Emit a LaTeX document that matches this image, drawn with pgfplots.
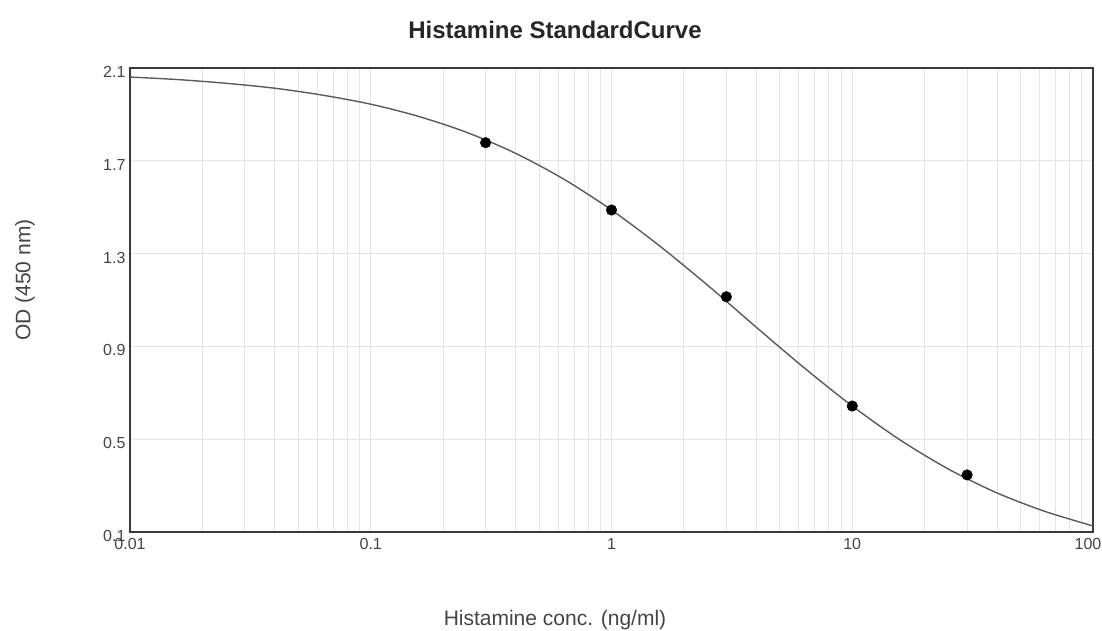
\documentclass[border=0pt]{standalone}
\usepackage{fontspec}
\setmainfont{Liberation Sans}
\usepackage{pgfplots}
\pgfplotsset{compat=1.18}

\definecolor{gridgray}{HTML}{E4E4E4}
\definecolor{framegray}{HTML}{3A3A3A}
\definecolor{curvegray}{HTML}{5A5A5A}
\definecolor{labelgray}{HTML}{444444}

\begin{document}
\begin{tikzpicture}
\path[use as bounding box] (-130pt,-98pt) rectangle (972pt,532pt);
\begin{axis}[
  at={(0,0)}, anchor=south west,
  scale only axis, width=963pt, height=464pt,
  xmode=log, log basis x=10,
  xmin=0.01, xmax=100, ymin=0.1, ymax=2.1,
  xtick={0.01,0.1,1,10,100},
  xticklabels={0.01,0.1,1,10,\hspace*{-10pt}100},
  minor xtick={0.02,0.03,0.04,0.05,0.06,0.07,0.08,0.09,
               0.2,0.3,0.4,0.5,0.6,0.7,0.8,0.9,
               2,3,4,5,6,7,8,9,
               20,30,40,50,60,70,80,90},
  ytick={0.1,0.5,0.9,1.3,1.7,2.1},
  yticklabels={0.1,0.5,0.9,1.3,1.7,2.1},
  xmajorgrids, xminorgrids, ymajorgrids,
  grid style={gridgray, line width=1pt},
  major tick length=0pt, minor tick length=0pt,
  axis line style={framegray, line width=1.3pt},
  ticklabel style={font=\fontsize{16}{19}\selectfont, text=labelgray},
  xticklabel style={yshift=-3pt},
  yticklabel style={yshift=-4pt, xshift=-1pt},
  clip=true,
]
% fitted standard curve
\addplot[smooth, curvegray, line width=1.4pt] coordinates {
  (0.01000, 2.061) (0.01585, 2.050) (0.02512, 2.034) (0.03981, 2.013)
  (0.06310, 1.983) (0.1000, 1.944) (0.1585, 1.891) (0.2512, 1.822)
  (0.3981, 1.733) (0.6310, 1.622) (1.000, 1.488) (1.585, 1.333)
  (2.512, 1.163) (3.981, 0.984) (6.310, 0.808) (10.00, 0.643)
  (15.85, 0.496) (25.12, 0.371) (39.81, 0.269) (63.10, 0.189)
  (100.0, 0.126)
};
% standards
\addplot[only marks, mark=*, mark size=5.3pt, black] coordinates {
  (0.3, 1.778) (1, 1.488) (3, 1.114) (10, 0.643) (30, 0.346)
};
\end{axis}
\node[font=\fontsize{24}{28}\selectfont\bfseries, text=black!85] at (425pt, 502pt) {Histamine StandardCurve};
\node[font=\fontsize{21}{24}\selectfont, text=labelgray] at (425pt, -88pt) {Histamine conc. (ng/ml)};
\node[font=\fontsize{21}{24}\selectfont, text=labelgray, rotate=90] at (-105pt, 252pt) {OD (450 nm)};
\end{tikzpicture}
\end{document}
